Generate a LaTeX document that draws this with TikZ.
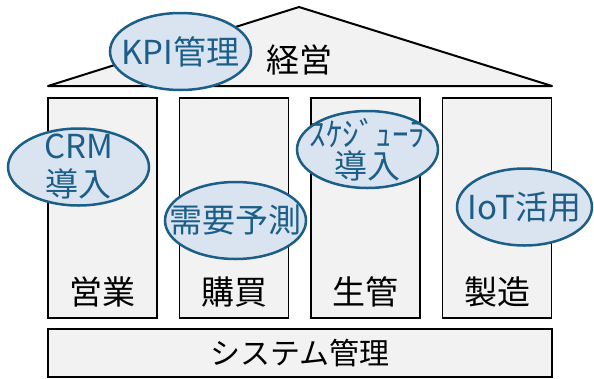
\documentclass[tikz,border=0pt]{standalone}
\usepackage{fontspec}
\setmainfont{Noto Sans CJK JP}
\usetikzlibrary{positioning, shapes.geometric}
\definecolor{bubbleline}{HTML}{1B5E87}
\definecolor{bubblefill}{HTML}{DAE3F0}
\definecolor{wallgray}{HTML}{F2F2F2}
\tikzset{
pillar/.style={draw, fill=wallgray, line width=1.5pt, minimum width=109pt,
  minimum height=220pt, inner sep=0pt, outer sep=0pt},
base/.style={pillar, line width=2pt, minimum width=504pt, minimum height=48pt,
  font=\fontsize{30}{36}\selectfont},
roof/.style={draw, fill=wallgray, line width=2pt, line join=round},
bubble/.style={ellipse, draw=bubbleline, fill=bubblefill, text=bubbleline,
  line width=2.5pt, inner xsep=-20pt, inner ysep=-16pt,
  minimum width=141pt, minimum height=77pt, align=center},
pillar label/.style={anchor=center, yshift=26pt}
}

\begin{document}
\begin{tikzpicture}[x=1pt, y=-1pt, font=\fontsize{33}{38}\selectfont]
\useasboundingbox (0,0) rectangle (594,378);
%\draw[help lines] (0,0) grid[step=50] (594,378);
\coordinate (roofL) at (48,86);
\coordinate (roofT) at (299,7);
\coordinate (roofR) at (552,86);
\draw[roof] (roofL) -- (roofT) -- (roofR) -- cycle;
\node (keiei) at (299.5,60) {経営};

\node[pillar, label={[pillar label]south:営業}] (eigyo) at (102.5,208) {};
\node[pillar, right=22.5pt of eigyo, label={[pillar label]south:購買}] (kobai) {};
\node[pillar, right=22.5pt of kobai, label={[pillar label]south:生管}] (seikan) {};
\node[pillar, right=22.5pt of seikan, label={[pillar label]south:製造}] (seizo) {};
\node[base] (sys) at (300,353) {システム管理};

\node[bubble] (kpi) at (180.5,51.5) {KPI管理};
\node[bubble] (crm) at (78.5,167) {CRM\\導入};
\node[bubble] (juyo) at (235.5,220.5) {需要予測};
\node[bubble] (sched) at (367.5,149.5) {ｽｹｼﾞｭｰﾗ\\[-6pt]導入};
\node[bubble, minimum width=135pt] (iot) at (524.5,207) {IoT活用};
\end{tikzpicture}
\end{document}
